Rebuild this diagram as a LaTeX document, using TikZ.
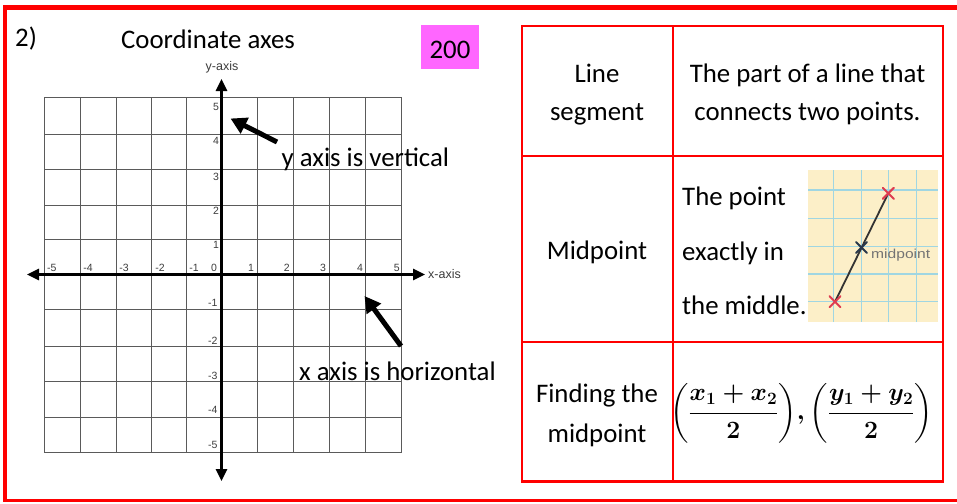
\documentclass[tikz,border=0pt]{standalone}
\usepackage{amsmath}
\usepackage{fontspec}
\setmainfont{Carlito}
\newfontfamily\arial{Liberation Sans}
\usetikzlibrary{arrows.meta}
\definecolor{framered}{RGB}{255,0,0}
\definecolor{pinkbox}{RGB}{255,102,255}
\definecolor{gridgray}{RGB}{90,90,90}
\definecolor{labgray}{RGB}{60,60,60}
\definecolor{paper}{RGB}{252,239,200}
\definecolor{paperline}{RGB}{160,214,226}
\definecolor{xred}{RGB}{222,60,80}
\definecolor{xdark}{RGB}{40,55,75}
\newsavebox{\formbox}
\tikzset{
  bigtext/.style={font=\fontsize{26.8}{26.8}\selectfont, inner sep=0pt},
  ticklab/.style={font=\arial\fontsize{10.5}{10.5}\selectfont, text=labgray, inner sep=0pt},
  gridline/.style={draw=gridgray, line width=0.9pt},
  axisline/.style={draw=black, line width=2.6pt, {Triangle[length=12pt,width=11pt]}-{Triangle[length=12pt,width=11pt]}},
  notearrow/.style={draw=black, line width=5pt, -{Triangle[length=16pt,width=17pt]}},
  tblline/.style={draw=framered, line width=2.4pt},
  xmark/.style={line width=2pt, line cap=round}
}
\begin{document}
\sbox{\formbox}{\fontsize{23.5}{27}\selectfont\boldmath$\biggl(\dfrac{x_1+x_2}{2}\biggr),\biggl(\dfrac{y_1+y_2}{2}\biggr)$}%
\begin{tikzpicture}[x=1pt,y=-1pt]
\useasboundingbox (0,0) rectangle (957,503);
% outer frame
\draw[framered, line width=4.5pt] (957,7.5) -- (5,7.5) -- (5,500);
\draw[framered, line width=2.8pt] (3,500.8) -- (957,500.8);
% title
\node[bigtext, anchor=west] (num) at (15,39) {2)};
\node[bigtext] (title) at (208,39) {Coordinate axes};
\node[fill=pinkbox, minimum width=58pt, minimum height=44pt, inner sep=0pt] (pts) at (450,47) {};
\node[bigtext] (ptstext) at (450,49.5) {200};
% grid
\foreach \gx in {44.3,80.7,116,151.7,186.7,221.5,257.7,293,329,365,401.7}
  \draw[gridline] (\gx,97.7) -- (\gx,452.3);
\foreach \gy in {97.7,134,169.3,205,239.5,274.5,309.3,346.7,381.7,417.3,452.3}
  \draw[gridline] (44.3,\gy) -- (401.7,\gy);
% axes
\coordinate (xl) at (27,274.5);
\coordinate (xr) at (425,274.5);
\coordinate (yt) at (221.5,79);
\coordinate (yb) at (221.5,481);
\draw[axisline] (xl) -- (xr);
\draw[axisline] (yb) -- (yt);
\node[ticklab, font=\arial\fontsize{12.5}{12.5}\selectfont, anchor=west] (xax) at (428,274.5) {x-axis};
\node[ticklab, font=\arial\fontsize{12.5}{12.5}\selectfont] (yax) at (222,67) {y-axis};
% x tick labels
\foreach \lx/\t in {51.7/-5,88/-4,124/-3,160/-2,194/-1,214/0,251/1,286.7/2,323/3,360/4,396.7/5}
  \node[ticklab] at (\lx,268) {\t};
% y tick labels
\foreach \ly/\t in {106.7/5,141/4,176.7/3,211/2,245/1}
  \node[ticklab] at (216,\ly) {\t};
\foreach \ly/\t in {302.7/-1,341/-2,376/-3,410/-4,445/-5}
  \node[ticklab] at (212.7,\ly) {\t};
% annotations
\node[bigtext, anchor=west] (ynote) at (281.5,159) {y axis is vertical};
\coordinate (ya0) at (277,142);
\coordinate (ya1) at (230.5,118.5);
\draw[notearrow] (ya0) -- (ya1);
\node[bigtext, anchor=west] (xnote) at (299,371) {x axis is horizontal};
\coordinate (xa0) at (401,346);
\coordinate (xa1) at (364.5,296);
\draw[notearrow] (xa0) -- (xa1);
% table
\draw[tblline] (521.7,26) rectangle (942.7,481.5);
\draw[tblline] (673,26) -- (673,481.5);
\draw[tblline] (521.7,155.7) -- (942.7,155.7);
\draw[tblline] (521.7,342) -- (942.7,342);
\node[bigtext, align=center, font=\fontsize{26.8}{38}\selectfont] (c11) at (597,94.5) {Line\\segment};
\node[bigtext, align=center, font=\fontsize{26.8}{38}\selectfont] (c12) at (807.5,94.5) {The part of a line that\\connects two points.};
\node[bigtext] (c21) at (597,252.5) {Midpoint};
\node[bigtext, align=left, anchor=west, font=\fontsize{26.8}{54.5}\selectfont] (c22) at (682,251) {The point\\exactly in\\the middle.};
\node[bigtext, align=center, font=\fontsize{26.8}{40}\selectfont] (c31) at (597,415.5) {Finding the\\midpoint};
\node[inner sep=0pt] (c32) at (801.5,413) {\usebox{\formbox}};
% midpoint picture
\fill[paper] (808.3,170) rectangle (937.7,321.7);
\foreach \px in {833.3,861.7,888.3,916.7}
  \draw[paperline, line width=1.3pt] (\px,170) -- (\px,321.7);
\foreach \py in {190,218.3,246.7,274,301.7}
  \draw[paperline, line width=1.3pt] (808.3,\py) -- (937.7,\py);
\coordinate (pa) at (835,301.7);
\coordinate (pb) at (888.3,193.3);
\coordinate (pm) at (861.5,247.5);
\draw[black!80, line width=1.8pt] (pa) -- (pb);
\draw[xmark, xred] ([shift={(-5.5,-5.5)}]pa) -- ([shift={(5.5,5.5)}]pa) ([shift={(-5.5,5.5)}]pa) -- ([shift={(5.5,-5.5)}]pa);
\draw[xmark, xred] ([shift={(-5.5,-5.5)}]pb) -- ([shift={(5.5,5.5)}]pb) ([shift={(-5.5,5.5)}]pb) -- ([shift={(5.5,-5.5)}]pb);
\draw[xmark, xdark] ([shift={(-5.5,-5.5)}]pm) -- ([shift={(5.5,5.5)}]pm) ([shift={(-5.5,5.5)}]pm) -- ([shift={(5.5,-5.5)}]pm);
\node[inner sep=0pt, anchor=west, text=black!55, font=\arial\fontsize{13}{13}\selectfont] (mplab) at (871,255) {\scalebox{1.2}[1]{midpoint}};
\end{tikzpicture}
\end{document}
